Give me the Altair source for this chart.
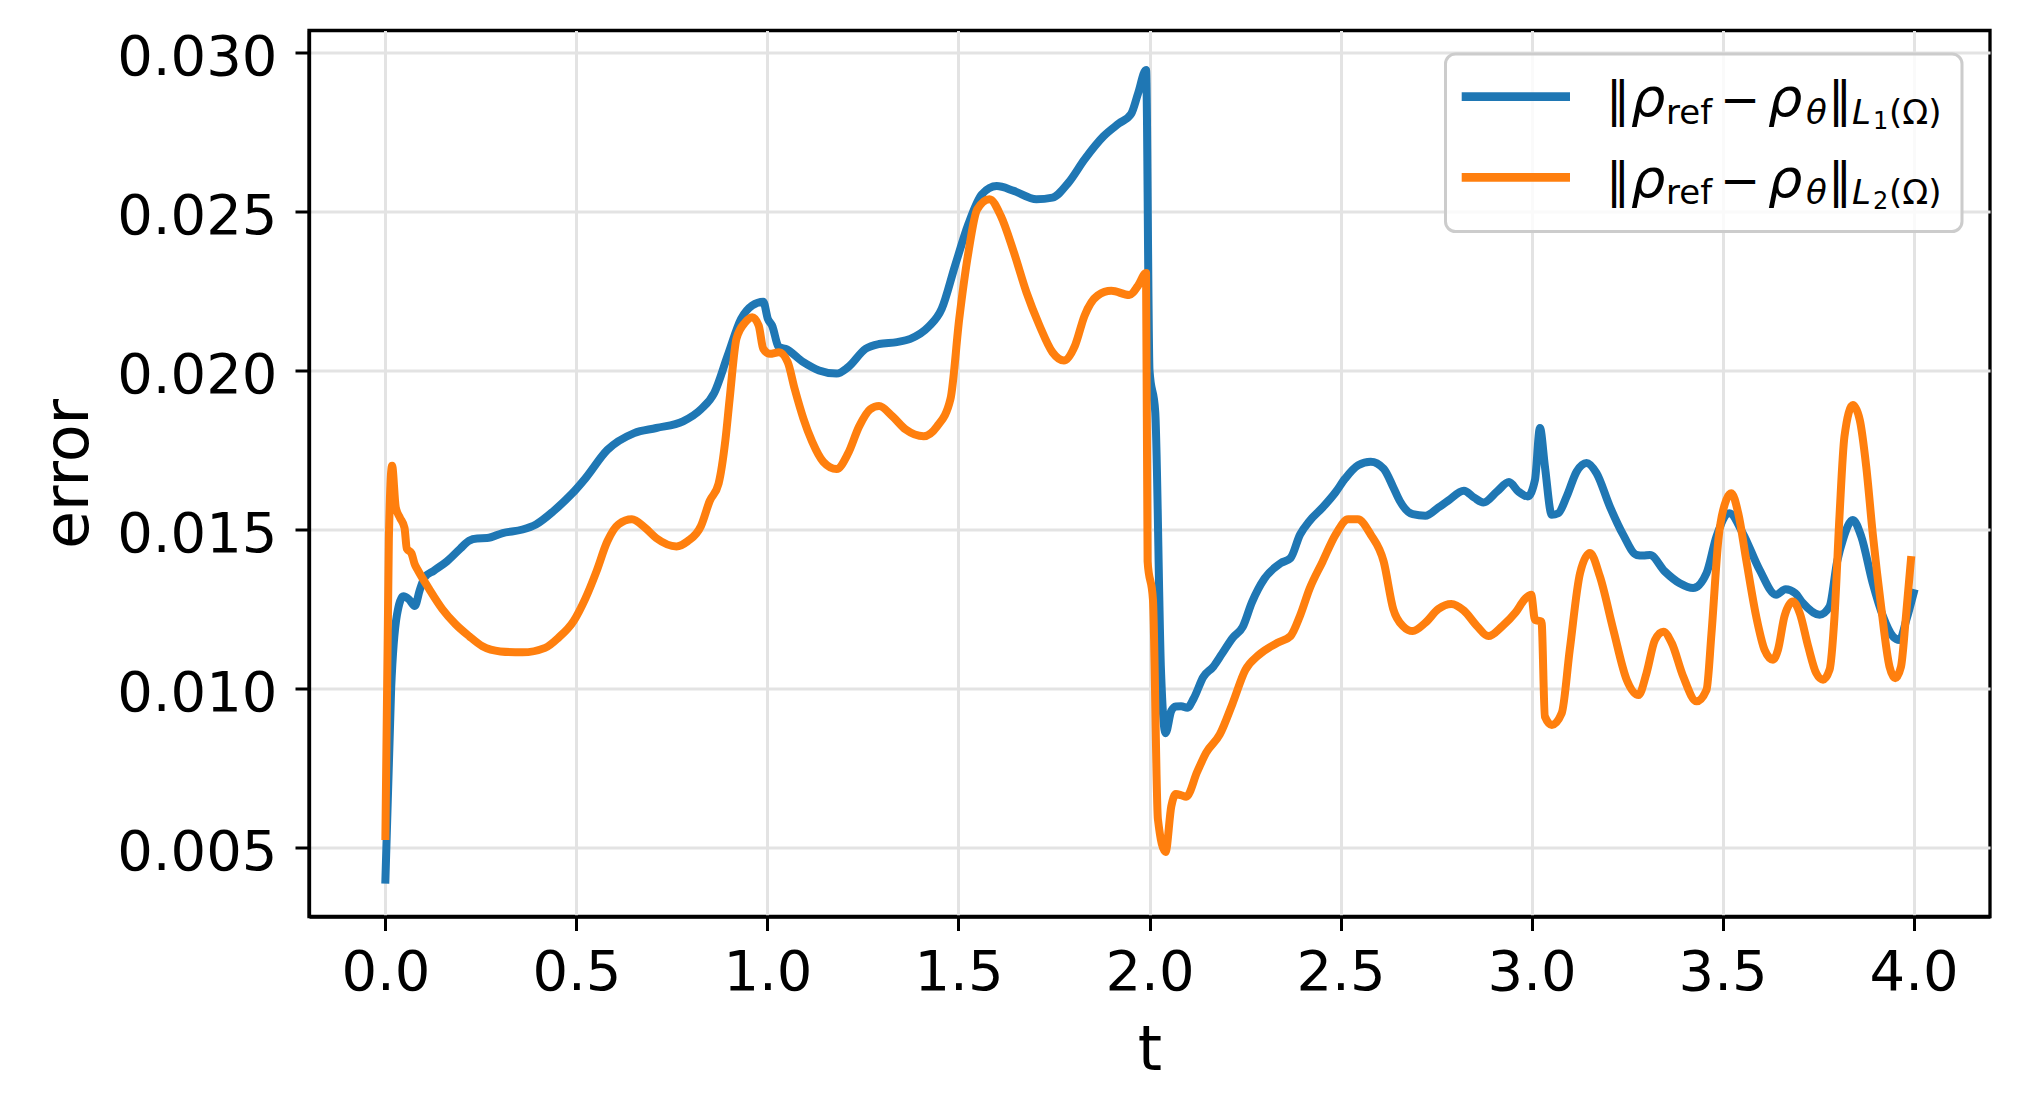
import altair as alt
import pandas as pd

# ---------------- data ----------------
series_names = ["L1", "L2"]
series_colors = ["#1f77b4", "#ff7f0e"]

t_l1 = [0.000, 0.015, 0.030, 0.047, 0.062, 0.077, 0.090, 0.103, 0.126, 0.161,
        0.196, 0.219, 0.240, 0.266, 0.307, 0.359, 0.394, 0.441, 0.488, 0.523,
        0.581, 0.651, 0.709, 0.779, 0.826, 0.861, 0.896, 0.931, 0.960, 0.989,
        1.001, 1.012, 1.030, 1.047, 1.094, 1.135, 1.181, 1.211, 1.257, 1.292,
        1.339, 1.374, 1.421, 1.456, 1.491, 1.526, 1.561, 1.600, 1.645, 1.704,
        1.746, 1.788, 1.830, 1.880, 1.920, 1.952, 1.970, 1.991, 2.000, 2.015,
        2.030, 2.042, 2.057, 2.069, 2.083, 2.099, 2.116, 2.141, 2.167, 2.190,
        2.218, 2.244, 2.268, 2.301, 2.343, 2.369, 2.394, 2.419, 2.453, 2.487,
        2.512, 2.546, 2.579, 2.613, 2.638, 2.655, 2.689, 2.722, 2.756, 2.781,
        2.823, 2.850, 2.874, 2.910, 2.941, 2.965, 2.990, 3.009, 3.022, 3.035,
        3.053, 3.070, 3.092, 3.118, 3.144, 3.170, 3.205, 3.240, 3.275, 3.292,
        3.310, 3.349, 3.388, 3.423, 3.458, 3.484, 3.518, 3.553, 3.597, 3.640,
        3.665, 3.690, 3.710, 3.754, 3.780, 3.800, 3.815, 3.841, 3.863, 3.893,
        3.920, 3.946, 3.963, 3.981, 4.000]
v_l1 = [0.00400, 0.01000, 0.01230, 0.01290, 0.01280, 0.01260, 0.01310, 0.01350, 0.01370, 0.01400,
        0.01440, 0.01465, 0.01472, 0.01473, 0.01489, 0.01500, 0.01516, 0.01559, 0.01612, 0.01660,
        0.01750, 0.01803, 0.01819, 0.01840, 0.01878, 0.01930, 0.02047, 0.02162, 0.02204, 0.02216,
        0.02162, 0.02141, 0.02073, 0.02068, 0.02026, 0.02000, 0.01990, 0.02010, 0.02068, 0.02083,
        0.02089, 0.02099, 0.02136, 0.02193, 0.02329, 0.02460, 0.02553, 0.02579, 0.02564, 0.02538,
        0.02543, 0.02590, 0.02663, 0.02736, 0.02776, 0.02806, 0.02870, 0.02944, 0.02000, 0.01870,
        0.01060, 0.00860, 0.00930, 0.00944, 0.00945, 0.00940, 0.00970, 0.01037, 0.01069, 0.01110,
        0.01160, 0.01194, 0.01271, 0.01346, 0.01394, 0.01410, 0.01484, 0.01527, 0.01569, 0.01617,
        0.01660, 0.01702, 0.01713, 0.01691, 0.01633, 0.01590, 0.01548, 0.01543, 0.01569, 0.01590,
        0.01622, 0.01600, 0.01585, 0.01620, 0.01649, 0.01620, 0.01604, 0.01656, 0.01819, 0.01698,
        0.01546, 0.01551, 0.01604, 0.01682, 0.01709, 0.01677, 0.01572, 0.01483, 0.01420, 0.01418,
        0.01420, 0.01368, 0.01331, 0.01316, 0.01363, 0.01478, 0.01551, 0.01488, 0.01373, 0.01295,
        0.01312, 0.01300, 0.01269, 0.01232, 0.01258, 0.01400, 0.01468, 0.01530, 0.01478, 0.01331,
        0.01227, 0.01164, 0.01153, 0.01216, 0.01300]

t_l2 = [0.000, 0.009, 0.0175, 0.027, 0.038, 0.050, 0.056, 0.068, 0.077, 0.085,
        0.114, 0.149, 0.184, 0.219, 0.254, 0.301, 0.359, 0.418, 0.453, 0.493,
        0.523, 0.552, 0.581, 0.610, 0.645, 0.680, 0.709, 0.762, 0.791, 0.826,
        0.849, 0.872, 0.890, 0.901, 0.919, 0.942, 0.960, 0.977, 0.989, 1.006,
        1.030, 1.053, 1.071, 1.094, 1.117, 1.146, 1.181, 1.211, 1.240, 1.269,
        1.292, 1.327, 1.362, 1.409, 1.444, 1.479, 1.502, 1.526, 1.549, 1.581,
        1.611, 1.645, 1.678, 1.712, 1.746, 1.776, 1.805, 1.830, 1.864, 1.900,
        1.947, 1.970, 1.991, 1.995, 2.009, 2.022, 2.042, 2.057, 2.069, 2.083,
        2.096, 2.125, 2.148, 2.184, 2.217, 2.251, 2.285, 2.335, 2.369, 2.394,
        2.419, 2.453, 2.487, 2.520, 2.545, 2.579, 2.613, 2.638, 2.663, 2.689,
        2.722, 2.756, 2.790, 2.823, 2.857, 2.887, 2.924, 2.958, 2.983, 2.999,
        3.009, 3.026, 3.035, 3.053, 3.079, 3.100, 3.127, 3.153, 3.179, 3.214,
        3.249, 3.280, 3.301, 3.323, 3.345, 3.367, 3.397, 3.432, 3.458, 3.471,
        3.489, 3.510, 3.523, 3.541, 3.562, 3.588, 3.610, 3.632, 3.645, 3.662,
        3.684, 3.702, 3.724, 3.745, 3.763, 3.780, 3.793, 3.806, 3.819, 3.841,
        3.859, 3.876, 3.893, 3.915, 3.937, 3.952, 3.967, 3.980, 3.993]
v_l2 = [0.00537, 0.01470, 0.01700, 0.01570, 0.01537, 0.01505, 0.01440, 0.01426, 0.01390, 0.01372,
        0.01314, 0.01250, 0.01202, 0.01165, 0.01133, 0.01117, 0.01114, 0.01128, 0.01160, 0.01213,
        0.01282, 0.01367, 0.01463, 0.01516, 0.01532, 0.01505, 0.01473, 0.01447, 0.01463, 0.01511,
        0.01590, 0.01644, 0.01782, 0.01910, 0.02100, 0.02151, 0.02167, 0.02141, 0.02068, 0.02052,
        0.02057, 0.02026, 0.01943, 0.01849, 0.01776, 0.01713, 0.01690, 0.01739, 0.01824, 0.01878,
        0.01888, 0.01856, 0.01814, 0.01793, 0.01824, 0.01910, 0.02162, 0.02371, 0.02506, 0.02538,
        0.02485, 0.02371, 0.02245, 0.02141, 0.02057, 0.02031, 0.02078, 0.02172, 0.02235, 0.02250,
        0.02237, 0.02266, 0.02306, 0.01400, 0.01280, 0.00590, 0.00487, 0.00630, 0.00669, 0.00665,
        0.00660, 0.00739, 0.00798, 0.00856, 0.00952, 0.01059, 0.01105, 0.01144, 0.01165, 0.01229,
        0.01314, 0.01399, 0.01484, 0.01532, 0.01532, 0.01484, 0.01399, 0.01250, 0.01197, 0.01181,
        0.01207, 0.01250, 0.01266, 0.01245, 0.01197, 0.01165, 0.01197, 0.01239, 0.01282, 0.01295,
        0.01216, 0.01211, 0.00912, 0.00886, 0.00923, 0.01122, 0.01363, 0.01426, 0.01352, 0.01185,
        0.01028, 0.00980, 0.01049, 0.01153, 0.01179, 0.01143, 0.01038, 0.00960, 0.00996, 0.01174,
        0.01468, 0.01594, 0.01614, 0.01551, 0.01404, 0.01227, 0.01122, 0.01091, 0.01122, 0.01227,
        0.01274, 0.01237, 0.01133, 0.01049, 0.01028, 0.01059, 0.01227, 0.01541, 0.01792, 0.01891,
        0.01845, 0.01698, 0.01488, 0.01258, 0.01069, 0.01033, 0.01069, 0.01227, 0.01404]

x_ticks = [0.0, 0.5, 1.0, 1.5, 2.0, 2.5, 3.0, 3.5, 4.0]
y_ticks = [0.005, 0.010, 0.015, 0.020, 0.025, 0.030]

df = pd.concat([
    pd.DataFrame({"t": t_l1, "error": v_l1, "series": series_names[0]}),
    pd.DataFrame({"t": t_l2, "error": v_l2, "series": series_names[1]}),
], ignore_index=True)

# ---------------- layout ----------------
W, H = 1681, 886
FONT = "DejaVu Sans"

lines = alt.Chart(df).mark_line(
    strokeWidth=8, strokeJoin="round", strokeCap="square", interpolate="monotone"
).encode(
    x=alt.X("t:Q",
            scale=alt.Scale(domain=[-0.2, 4.2], nice=False, zero=False),
            axis=alt.Axis(values=x_ticks, format=".1f", title="t",
                          labelPadding=15, titleY=153, titleBaseline="alphabetic",
                          labelFlush=False, labelOverlap=False)),
    y=alt.Y("error:Q",
            scale=alt.Scale(domain=[0.00284, 0.03068], nice=False, zero=False),
            axis=alt.Axis(values=y_ticks, format=".3f", title="error",
                          labelPadding=18, labelOffset=5, titleAngle=270,
                          titleX=-222, titleY=H / 2, titleAlign="center",
                          titleBaseline="alphabetic", labelFlush=False,
                          labelOverlap=False)),
    color=alt.Color("series:N",
                    scale=alt.Scale(domain=series_names, range=series_colors),
                    legend=None),
)

dummy = alt.Data(values=[{"a": 1}])

legend_box = alt.Chart(dummy).mark_rect(
    fill="white", fillOpacity=0.8, stroke="#cccccc", strokeWidth=3, cornerRadius=10
).encode(x=alt.value(1136.5), x2=alt.value(1653), y=alt.value(23.5), y2=alt.value(201))

layers = [lines, legend_box]

row_dy = 80.7
base_y = 85.5
for i, (name, col) in enumerate(zip(series_names, series_colors)):
    yy = base_y + i * row_dy
    layers.append(
        alt.Chart(dummy).mark_rule(strokeWidth=8.7, strokeCap="butt").encode(
            x=alt.value(1152.7), x2=alt.value(1261), y=alt.value(66.2 + i * row_dy),
            color=alt.value(col))
    )
    sub_num = "1" if i == 0 else "2"
    pieces = [
        ("\u2016", 1297, 0.0, 48, "normal"),
        ("\u03c1", 1322, 0.0, 54, "italic"),
        ("ref", 1357, 7.5, 34, "normal"),
        ("\u2212", 1411, 0.0, 48, "normal"),
        ("\u03c1", 1459, 0.0, 54, "italic"),
        ("\u03b8", 1497, 7.5, 34, "italic"),
        ("\u2016", 1519, 0.0, 48, "normal"),
        ("L", 1543, 7.5, 34, "italic"),
        (sub_num, 1564, 12.5, 24, "normal"),
        ("(\u03a9)", 1580, 7.5, 34, "normal"),
    ]
    for txt, px, dy, fs, style in pieces:
        layers.append(
            alt.Chart(dummy).mark_text(
                align="left", baseline="alphabetic", font=FONT, fontSize=fs,
                fontStyle=style, color="black"
            ).encode(x=alt.value(px), y=alt.value(yy + dy), text=alt.value(txt))
        )

chart = alt.layer(*layers).properties(
    width=W, height=H,
    background="white",
    autosize=alt.AutoSizeParams(type="none"),
    padding={"left": 309, "top": 30.5, "right": 27, "bottom": 199.5},
).configure_view(
    stroke="black", strokeWidth=3.3
).configure_axis(
    domain=True, domainColor="black", domainWidth=3.3,
    grid=True, gridColor="#e3e3e3", gridWidth=3,
    tickColor="black", tickWidth=3, tickSize=14,
    labelFont=FONT, labelFontSize=56, labelColor="black",
    titleFont=FONT, titleFontSize=62, titleColor="black", titleFontWeight="normal",
)

chart.save("out.html", embed_options={"renderer": "svg", "actions": False})
